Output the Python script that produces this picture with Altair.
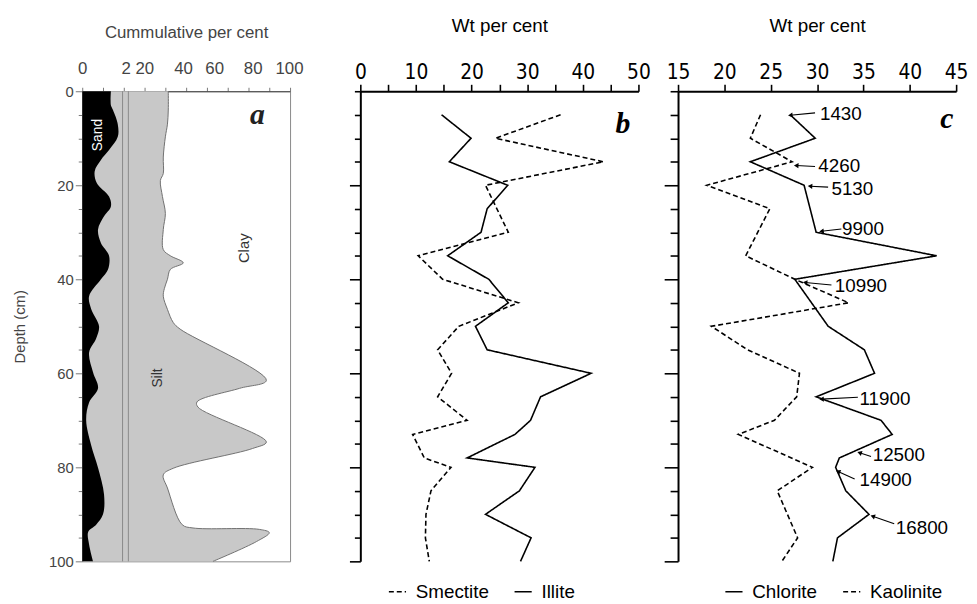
import math
import altair as alt
import pandas as pd

# ---------------- data ----------------
# Panel a: sediment texture (cumulative per cent on plot scale)
sand_depth = [0, 3, 4, 7, 9.7, 12.5, 14.6, 17, 19.5, 22.4, 24.5, 26.6, 29.4, 32.3, 35, 37.9, 40,
              43.6, 46.3, 50, 52.6, 55.6, 59.8, 63.2, 66.2, 70, 75.3, 80.1, 85.8, 90, 92.2, 93.7, 96.4, 100]
sand_cum = [13.8, 13.8, 14.8, 17.1, 17.1, 12.9, 9.0, 6.0, 7.0, 12.9, 13.8, 10.5, 7.6, 9.0, 12.9, 12.4, 9.0,
            3.3, 4.3, 8.1, 6.7, 3.3, 5.2, 7.6, 3.3, 1.9, 4.3, 7.6, 10.5, 10.0, 6.7, 2.9, 3.3, 5.2]
clay_depth = [0, 4, 7, 9.7, 14, 17.5, 19, 22.4, 26, 29.4, 33.7, 35, 36.5, 37.9, 40, 42, 43.6, 46.4, 49.2,
              50.6, 61.5, 63.2, 66.1, 67.2, 74.6, 76, 80.2, 81.6, 84.4, 92.2, 92.9, 93.2, 93.9, 95.8, 100]
silt_cum = [41.4, 41.4, 41.0, 40.0, 39.0, 39.0, 37.6, 38.6, 40.0, 39.0, 39.0, 42.4, 48.6, 42.4, 41.0, 39.5,
            39.0, 41.0, 43.8, 47.1, 88.6, 75.7, 55.2, 55.7, 88.6, 81.9, 43.8, 39.0, 41.0, 48.1, 53.3, 85.2,
            90.0, 83.8, 62.9]
a_tick_label_pos = [0, 26.5, 48.5, 63.5, 82, 99.5]
a_tick_label_txt = ["0", "2 20", "40", "60", "80", "100"]
a_text = ["Sand", "Silt", "Clay"]
a_text_x = [7.6, 36.7, 78.0]
a_text_depth = [9.3, 61.0, 33.4]

# Panel b
smectite_depth = [5, 10, 15, 20, 30, 35, 40, 45, 50, 55, 60, 65, 70, 73, 78, 80, 85, 90, 95, 100]
smectite = [36.0, 24.3, 43.7, 22.5, 26.6, 10.4, 14.8, 28.4, 17.7, 13.9, 16.4, 13.9, 19.2, 9.4, 11.5,
            16.3, 12.7, 11.8, 11.7, 12.4]
illite_depth = [5, 10, 15, 20, 25, 30, 35, 40, 45, 50, 55, 60, 65, 70, 73, 78, 80, 85, 90, 95, 100]
illite = [14.6, 19.9, 16.0, 26.5, 22.8, 21.7, 15.7, 23.1, 26.6, 20.7, 22.8, 41.5, 32.4, 30.6, 27.8,
          19.2, 31.4, 28.6, 22.5, 30.7, 28.8]

# Panel c
chlorite_depth = [5, 10, 15, 20, 30, 35, 40, 50, 55, 60, 65, 70, 73, 78, 80, 85, 90, 95, 100]
chlorite = [27.1, 29.8, 22.8, 28.6, 29.9, 42.9, 27.6, 31.2, 35.1, 36.2, 29.9, 36.9, 38.1, 32.4, 32.0,
            33.1, 35.6, 32.2, 31.7]
kaolinite_depth = [5, 10, 15, 20, 25, 35, 40, 45, 50, 55, 60, 65, 70, 73, 80, 85, 95, 100]
kaolinite = [23.9, 22.8, 27.3, 18.1, 24.9, 22.3, 27.6, 33.4, 18.6, 22.5, 28.1, 27.8, 25.4, 21.5, 29.5,
             25.7, 27.9, 26.2]

# Panel c age annotations (years)
ages = ["1430", "4260", "5130", "9900", "10990", "11900", "12500", "14900", "16800"]
tip_val = [27.11, 27.75, 29.24, 30.48, 28.71, 30.48, 34.58, 32.26, 36.0]
tip_depth = [5.1, 15.8, 20.2, 29.8, 40.7, 65.5, 76.9, 80.9, 90.4]
tail_val = [29.78, 29.78, 31.19, 32.62, 31.55, 34.40, 35.82, 34.05, 38.32]
tail_depth = [4.6, 16.0, 20.4, 29.3, 41.2, 65.1, 77.7, 82.5, 92.0]
label_val = [30.31, 30.13, 31.55, 32.69, 31.91, 34.58, 36.0, 34.58, 38.49]
label_depth = [4.8, 16.0, 20.9, 29.4, 41.5, 65.5, 77.4, 82.8, 93.0]

# ---------------- style ----------------
H = 475
WA, WB, WC = 210, 281, 281
SANS = "Liberation Sans, Arial, sans-serif"
NARROW = "Liberation Sans Narrow, DejaVu Sans Condensed, Arial Narrow, sans-serif"
SERIF = "Liberation Serif, Times New Roman, serif"

y_scale = alt.Scale(domain=[0, 100], reverse=True, nice=False, zero=False)
depth_ticks = list(range(0, 101, 5))


def major_minor(major, minor, skip_zero=False):
    test = "datum.value % 20 === 0" + (" && datum.value > 0" if skip_zero else "")
    return {"condition": {"test": test, "value": major}, "value": minor}


# ---------------- panel a ----------------
xa = alt.Scale(domain=[0, 100], nice=False, zero=False)
df_sand = pd.DataFrame({"depth": sand_depth, "pct": sand_cum})
df_clay = pd.DataFrame({"depth": clay_depth, "pct": silt_cum})

label_expr_a = " : ".join(
    f"abs(datum.value - {p}) < 0.01 ? '{t}'" for p, t in zip(a_tick_label_pos, a_tick_label_txt)
) + " : ''"

ya_axis = alt.Axis(
    values=depth_ticks,
    labelExpr="datum.value % 20 === 0 ? datum.label : ''",
    tickColor="#777", domainColor="#777", tickSize=major_minor(7, 4), domainWidth=1, tickWidth=1,
    labelColor="#444", labelFont=SANS, labelFontSize=15, labelPadding=2,
    title="Depth (cm)", titleFont=SANS, titleFontSize=15, titleFontWeight="normal",
    titleColor="#444", titlePadding=21, grid=False, labelOverlap=False,
)
xa_tick_axis = alt.Axis(
    orient="top", values=list(range(0, 101, 10)), labels=False, tickSize=4, tickColor="#777",
    domainColor="#444", domainWidth=1, tickWidth=1, title=None, grid=False,
)
xa_label_axis = alt.Axis(
    orient="top", values=a_tick_label_pos, labelExpr=label_expr_a, ticks=False, domain=False,
    labelFont=SANS, labelFontSize=17, labelColor="#444", labelPadding=14, labelFlush=False,
    labelOverlap=False, title="Cummulative per cent", titleFont=SANS, titleFontSize=17,
    titleFontWeight="normal", titleColor="#444", titlePadding=18, grid=False,
)

grey = alt.Chart(df_clay).mark_area(orient="horizontal", interpolate="catmull-rom", color="#c8c8c8").encode(
    y=alt.Y("depth:Q", scale=y_scale, axis=ya_axis),
    x=alt.X("pct:Q", scale=xa, axis=xa_tick_axis),
    x2=alt.datum(0),
)
clay_line = alt.Chart(df_clay).mark_line(interpolate="catmull-rom", color="#707070", strokeWidth=1).encode(
    y=alt.Y("depth:Q", scale=y_scale, axis=None),
    x=alt.X("pct:Q", scale=xa, axis=None),
    order=alt.Order("depth:Q"),
)
breaks = alt.Chart(pd.DataFrame({"pct": [19.4, 22.2]})).mark_rule(color="#8a8a8a", strokeWidth=1).encode(
    x=alt.X("pct:Q", scale=xa, axis=None),
)
sand = alt.Chart(df_sand).mark_area(orient="horizontal", interpolate="catmull-rom", color="black").encode(
    y=alt.Y("depth:Q", scale=y_scale, axis=None),
    x=alt.X("pct:Q", scale=xa, axis=xa_label_axis),
    x2=alt.datum(0),
)
df_atext = pd.DataFrame({"txt": a_text, "pct": a_text_x, "depth": a_text_depth,
                         "col": ["white", "#333", "#333"], "fs": [14, 14, 15]})
a_labels = alt.Chart(df_atext).mark_text(angle=270, font=SANS, align="center", baseline="middle").encode(
    y=alt.Y("depth:Q", scale=y_scale, axis=None),
    x=alt.X("pct:Q", scale=xa, axis=None),
    text="txt:N",
    color=alt.Color("col:N", scale=None),
    size=alt.Size("fs:Q", scale=None),
)
letter_a = alt.Chart(pd.DataFrame({"t": ["a"], "pct": [84.3], "depth": [7.0]})).mark_text(
    font=SERIF, fontStyle="italic", fontWeight="bold", fontSize=30, color="#222",
    align="center", baseline="alphabetic",
).encode(
    y=alt.Y("depth:Q", scale=y_scale, axis=None),
    x=alt.X("pct:Q", scale=xa, axis=None),
    text="t:N",
)
panel_a = alt.layer(grey, clay_line, breaks, sand, a_labels, letter_a).resolve_axis(
    x="independent", y="independent"
).properties(width=WA, height=H, view=alt.ViewBackground(stroke="#8a8a8a", strokeWidth=1))


# ---------------- panels b and c ----------------
def y_axis_bc(major, minor):
    return alt.Axis(
        values=depth_ticks, labels=False, title=None, grid=False,
        tickSize=major_minor(major, minor, skip_zero=True), tickColor="black", tickWidth=1.6,
        domainColor="black", domainWidth=2,
    )


def x_axis_bc(values, label_expr):
    return alt.Axis(
        orient="top", values=values, labelExpr=label_expr, tickSize=7, tickWidth=1.6,
        tickColor="black", domainColor="black", domainWidth=2, labelFont=NARROW,
        labelFontSize=21, labelColor="black", labelPadding=2, labelFlush=False, labelOverlap=False,
        title="Wt per cent", titleFont=SANS, titleFontSize=19, titleFontWeight="normal",
        titleColor="black", titlePadding=26, grid=False,
    )


def legend(x, y):
    return alt.Legend(
        orient="none", legendX=x, legendY=y, direction="horizontal", title=None,
        symbolType="stroke", symbolStrokeColor="black", symbolStrokeWidth=1.5, symbolSize=300,
        labelFont=SANS, labelFontSize=19, labelColor="black", labelOffset=9, columnPadding=22,
        padding=0,
    )


dash_long = [5, 3]
solid = [1, 0]

df_b = pd.concat([
    pd.DataFrame({"depth": smectite_depth, "val": smectite, "mineral": "Smectite"}),
    pd.DataFrame({"depth": illite_depth, "val": illite, "mineral": "Illite"}),
])
xb = alt.Scale(domain=[0, 50], nice=False, zero=False)
lines_b = alt.Chart(df_b).mark_line(color="black", strokeWidth=1.6).encode(
    y=alt.Y("depth:Q", scale=y_scale, axis=y_axis_bc(11, 6)),
    x=alt.X("val:Q", scale=xb, axis=x_axis_bc(list(range(0, 51, 5)),
                                              "datum.value % 10 === 0 ? datum.label : ''")),
    strokeDash=alt.StrokeDash("mineral:N", scale=alt.Scale(domain=["Smectite", "Illite"],
                                                           range=[dash_long, solid]),
                              legend=legend(28, 496)),
    order=alt.Order("depth:Q"),
)
letter_b = alt.Chart(pd.DataFrame({"t": ["b"], "val": [47.2], "depth": [8.8]})).mark_text(
    font=SERIF, fontStyle="italic", fontWeight="bold", fontSize=30, color="black",
    align="center", baseline="alphabetic",
).encode(
    y=alt.Y("depth:Q", scale=y_scale, axis=None),
    x=alt.X("val:Q", scale=xb, axis=None),
    text="t:N",
)
panel_b = alt.layer(lines_b, letter_b).resolve_axis(
    x="independent", y="independent"
).properties(width=WB, height=H)

df_c = pd.concat([
    pd.DataFrame({"depth": chlorite_depth, "val": chlorite, "mineral": "Chlorite"}),
    pd.DataFrame({"depth": kaolinite_depth, "val": kaolinite, "mineral": "Kaolinite"}),
])
xc = alt.Scale(domain=[15, 45], nice=False, zero=False)
lines_c = alt.Chart(df_c).mark_line(color="black", strokeWidth=1.6).encode(
    y=alt.Y("depth:Q", scale=y_scale, axis=y_axis_bc(14, 8)),
    x=alt.X("val:Q", scale=xc, axis=x_axis_bc(list(range(15, 46, 5)), "datum.label")),
    strokeDash=alt.StrokeDash("mineral:N", scale=alt.Scale(domain=["Chlorite", "Kaolinite"],
                                                           range=[solid, dash_long]),
                              legend=legend(47, 496)),
    order=alt.Order("depth:Q"),
)
letter_c = alt.Chart(pd.DataFrame({"t": ["c"], "val": [44.0], "depth": [7.8]})).mark_text(
    font=SERIF, fontStyle="italic", fontWeight="bold", fontSize=30, color="black",
    align="center", baseline="alphabetic",
).encode(
    y=alt.Y("depth:Q", scale=y_scale, axis=None),
    x=alt.X("val:Q", scale=xc, axis=None),
    text="t:N",
)

# arrow head orientation derived from the tail->tip vectors
px_x = WC / 30.0
px_y = H / 100.0
angles = []
for tv, td, lv, ld in zip(tip_val, tip_depth, tail_val, tail_depth):
    dx = (tv - lv) * px_x
    dy = (td - ld) * px_y
    angles.append(math.degrees(math.atan2(-dy, -dx)) % 360)

df_ann = pd.DataFrame({
    "age": ages, "tip_val": tip_val, "tip_depth": tip_depth, "tail_val": tail_val,
    "tail_depth": tail_depth, "val": label_val, "depth": label_depth, "ang": angles,
})
arrow_lines = alt.Chart(df_ann).mark_rule(color="black", strokeWidth=1.1).encode(
    x=alt.X("tip_val:Q", scale=xc, axis=None), x2="tail_val:Q",
    y=alt.Y("tip_depth:Q", scale=y_scale, axis=None), y2="tail_depth:Q",
)
arrow_heads = alt.Chart(df_ann).mark_point(shape="triangle-left", filled=True, color="black",
                                           size=28, opacity=1).encode(
    x=alt.X("tip_val:Q", scale=xc, axis=None),
    y=alt.Y("tip_depth:Q", scale=y_scale, axis=None),
    angle=alt.Angle("ang:Q", scale=None),
)
ann_text = alt.Chart(df_ann).mark_text(font=SANS, fontSize=19, color="black", align="left",
                                       baseline="middle").encode(
    x=alt.X("val:Q", scale=xc, axis=None),
    y=alt.Y("depth:Q", scale=y_scale, axis=None),
    text="age:N",
)
panel_c = alt.layer(lines_c, arrow_lines, arrow_heads, ann_text, letter_c).resolve_axis(
    x="independent", y="independent"
).properties(width=WC, height=H)


def spacer(w):
    return alt.Chart(pd.DataFrame({"v": [0]})).mark_point(opacity=0).encode(
        x=alt.value(0), y=alt.value(0)
    ).properties(width=w, height=H)


chart = alt.hconcat(
    panel_a, spacer(71), panel_b, spacer(40), panel_c, spacing=0, bounds="flush"
).resolve_scale(strokeDash="independent").resolve_legend(strokeDash="independent").properties(
    padding={"left": 4, "top": 6, "right": 0, "bottom": 0}, background="white"
).configure_view(strokeWidth=0)

chart.save("out.html", embed_options={"renderer": "svg", "actions": False})
